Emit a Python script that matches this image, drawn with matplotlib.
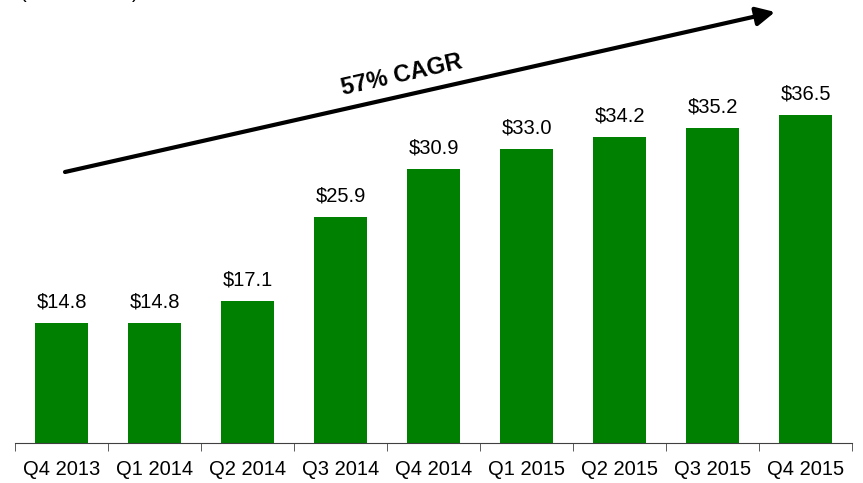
import numpy as np
import matplotlib.pyplot as plt

quarters = ["Q4 2013", "Q1 2014", "Q2 2014", "Q3 2014", "Q4 2014",
            "Q1 2015", "Q2 2015", "Q3 2015", "Q4 2015"]
revenue = [14.8, 14.8, 17.1, 25.9, 30.9, 33.0, 34.2, 35.2, 36.5]

plt.rcParams['font.family'] = ['Liberation Sans', 'DejaVu Sans']

fig = plt.figure(figsize=(8.63, 4.83), dpi=100)
ax = fig.add_axes([15 / 863, 40 / 483, 837 / 863, 443 / 483])

x = np.arange(len(quarters))
bars = ax.bar(x, revenue, width=0.58, color='#008000')
for xi, v in zip(x, revenue):
    ax.annotate(f"${v:.1f}", (xi, v), xytext=(0, 11), textcoords='offset points',
                ha='center', va='baseline', fontsize=14.5)

ax.set_xlim(-0.5, len(quarters) - 0.5)
ax.set_ylim(2.3, 48.5)
ax.set_xticks(x)
ax.set_xticklabels(quarters, fontsize=14.5)
ax.set_xticks(np.arange(-0.5, len(quarters)), minor=True)
ax.tick_params(axis='x', which='major', length=0, pad=12)
ax.tick_params(axis='x', which='minor', length=6, color='#404040')
ax.set_yticks([])
for s in ['left', 'right', 'top']:
    ax.spines[s].set_visible(False)
ax.spines['bottom'].set_color('#404040')

# growth arrow
ax.annotate("", xy=(775, 471), xytext=(65, 311), xycoords='figure pixels',
            textcoords='figure pixels',
            arrowprops=dict(arrowstyle='-|>', color='black', lw=3,
                            mutation_scale=28, shrinkA=0, shrinkB=0))
fig.text(402 / 863, 408 / 483, "57% CAGR", fontsize=17, fontweight='bold',
         rotation=12.7, rotation_mode='anchor', ha='center', va='center')

# unit caption, cut off at the top edge as in the source slide
fig.text(20 / 863, 484.5 / 483, "($ in millions)", fontsize=14.5,
         ha='left', va='baseline')

fig.savefig("out.png", dpi=100)
